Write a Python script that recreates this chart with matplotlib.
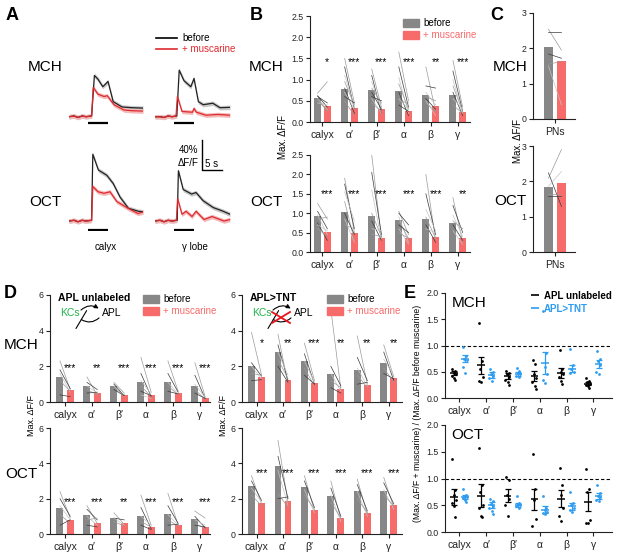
import matplotlib
matplotlib.use('Agg')
import matplotlib.pyplot as plt
from matplotlib.patches import FancyArrowPatch, Patch, ArrowStyle
from matplotlib.lines import Line2D
import numpy as np

plt.rcParams['font.family'] = ['Liberation Sans', 'DejaVu Sans']

W, H = 617, 556
GRAY = '#878787'
RED = '#f86b6b'
TRACE_RED = '#dd2a2f'
BLUE = '#2e9cf0'
GREEN = '#22b04a'
PAIR_COLORS = ['#9a9a9a', '#3a3a3a', '#c4c4c4']

regions = ['calyx', 'α′', 'β′', 'α', 'β', 'γ']

# ---------------- A: traces (time in s, dF/F in %) ----------------
mch_calyx_t_bef = [-4.75, -3.5, -2.5, -1.5, -0.5, 0.9, 1.6, 2.5, 3.7, 5.0, 6.3, 8.5, 11, 13.75]
mch_calyx_bef = [0, 1, -1, 1, 0, 1, 55, 50, 40, 47, 20, 13, 12, 11.5]
mch_calyx_t_mus = [-4.75, -3.5, -2.5, -1.5, -0.5, 0.9, 1.3, 2.5, 4.0, 4.8, 6.5, 9, 11, 13.75]
mch_calyx_mus = [0, 1, -1, 1, 0, 1, 39, 30, 27, 28, 16, 9, 8, 7.5]
mch_gamma_t_bef = [-4.75, -3.5, -2.5, -1.5, -0.5, 0.7, 1.3, 2.5, 4.2, 5.0, 6.1, 7.3, 9.7, 11.5, 14]
mch_gamma_bef = [0, 0, -1, 1, 0, 1, 62, 48, 40, 51, 20, 16, 18, 12, 12.5]
mch_gamma_t_mus = [-4.75, -3.5, -2.5, -1.5, -0.5, 0.5, 0.85, 2.0, 4.6, 5.0, 5.6, 8, 11, 14]
mch_gamma_mus = [0, 0, -1, 1, 0, 1, 27, 7, 6, 11, 6, 2, 3, 2]
oct_calyx_t_bef = [-4.75, -3.5, -2.5, -1.5, -0.5, 0.9, 1.2, 2.6, 4.7, 6.3, 8.0, 10.1, 12.6, 13.75]
oct_calyx_bef = [0, 1, -1, 1, 0, 1, 89, 68, 61, 50, 32, 17, 13, 12.4]
oct_calyx_t_mus = [-4.75, -3.5, -2.5, -1.5, -0.5, 0.9, 1.2, 2.5, 4.0, 5.5, 7.2, 10.0, 12.5, 13.75]
oct_calyx_mus = [0, 1, -1, 1, 0, 1, 46, 39, 37, 39, 26, 17, 10, 12]
oct_gamma_t_bef = [-4.75, -3.5, -2.5, -1.5, -0.5, 0.8, 1.1, 2.3, 4.4, 5.5, 7.3, 9.8, 12.3, 14]
oct_gamma_bef = [0, 1, -1, 1, 0, 1, 67, 42, 36, 38, 27, 18, 13, 9]
oct_gamma_t_mus = [-4.75, -3.5, -2.5, -1.5, -0.5, 0.6, 0.9, 2.0, 3.0, 4.5, 5.5, 7.5, 9.5, 11, 12.5, 14]
oct_gamma_mus = [0, 1, -1, 1, 0, 1, 30, 9, 13, 6, 13, 2, 6, 3, 0, 2]
trace_sem = 3.0
odor_on, odor_off = 0, 5

# ---------------- B: KC bars ----------------
b_mch_before = [0.56, 0.77, 0.76, 0.73, 0.63, 0.64]
b_mch_after = [0.38, 0.32, 0.30, 0.27, 0.37, 0.23]
b_mch_stars = ['*', '***', '***', '***', '**', '***']
b_mch_pairs = [
    [(0.68, 0.95), (0.62, 0.35), (0.55, 0.3), (0.5, 0.28), (0.6, 0.45), (0.45, 0.4), (0.55, 0.25)],
    [(1.5, 0.45), (1.3, 0.3), (1.1, 0.35), (0.95, 0.4), (0.8, 0.2), (0.7, 0.3), (0.5, 0.15), (0.6, 0.45)],
    [(1.25, 0.35), (1.1, 0.2), (0.95, 0.3), (0.8, 0.45), (0.7, 0.3), (0.55, 0.2), (0.45, 0.25), (0.6, 0.5)],
    [(1.65, 0.5), (1.3, 0.35), (1.05, 0.2), (0.9, 0.3), (0.7, 0.15), (0.55, 0.3), (0.5, 0.45), (0.4, 0.25)],
    [(1.3, 0.25), (0.85, 0.8), (0.7, 0.4), (0.6, 0.5), (0.55, 0.3), (0.5, 0.15), (0.45, 0.25)],
    [(1.45, 0.35), (1.2, 0.25), (1.0, 0.2), (0.85, 0.25), (0.7, 0.15), (0.55, 0.3), (0.4, 0.2)],
]
b_oct_before = [0.92, 1.02, 0.92, 0.82, 0.86, 0.74]
b_oct_after = [0.52, 0.50, 0.36, 0.37, 0.38, 0.36]
b_oct_stars = ['***', '***', '***', '***', '***', '**']
b_oct_pairs = [
    [(1.25, 0.85), (1.05, 0.6), (0.95, 0.45), (0.85, 0.9), (0.75, 0.3), (0.7, 0.55), (0.6, 0.4)],
    [(1.9, 0.5), (1.75, 0.6), (1.55, 0.8), (1.3, 0.3), (1.0, 0.45), (0.85, 0.25), (0.7, 0.6)],
    [(2.5, 0.35), (2.05, 0.45), (1.6, 0.3), (1.0, 0.4), (0.8, 0.3), (0.6, 0.55), (0.45, 0.4)],
    [(1.05, 0.45), (1.0, 0.7), (0.9, 0.25), (0.8, 0.35), (0.7, 0.5), (0.6, 0.2), (0.5, 0.35)],
    [(2.0, 0.3), (1.5, 0.45), (1.1, 0.55), (0.9, 0.35), (0.7, 0.25), (0.6, 0.5)],
    [(1.4, 0.25), (1.2, 0.5), (0.95, 0.4), (0.8, 0.6), (0.7, 0.3), (0.55, 0.2)],
]

# ---------------- C: PN bars ----------------
c_mch_before, c_mch_after = 2.05, 1.63
c_mch_pairs = [(2.54, 1.95), (2.45, 2.45), (1.5, 0.4), (1.55, 1.63), (1.84, 1.72)]
c_oct_before, c_oct_after = 1.83, 1.94
c_oct_pairs = [(2.09, 2.9), (2.24, 1.29), (1.86, 2.28), (1.65, 1.65), (1.58, 1.58)]

# ---------------- D: APL unlabeled vs APL>TNT ----------------
d_unl_mch_before = [1.4, 0.92, 0.92, 1.12, 1.12, 0.87]
d_unl_mch_after = [0.65, 0.5, 0.38, 0.38, 0.48, 0.22]
d_unl_mch_stars = ['***', '**', '***', '***', '***', '***']
d_unl_mch_pairs = [
    [(2.3, 0.7), (1.8, 0.75), (1.6, 0.55), (1.2, 0.6), (0.4, 0.3)],
    [(1.4, 0.4), (1.1, 0.7), (0.9, 0.5), (0.7, 0.4), (0.5, 0.55)],
    [(1.1, 0.5), (1.0, 0.35), (0.9, 0.3), (0.8, 0.4), (0.7, 0.35)],
    [(2.5, 0.55), (1.6, 0.3), (1.2, 0.45), (0.9, 0.3), (0.6, 0.35), (0.4, 0.2)],
    [(2.3, 0.6), (1.6, 0.55), (1.1, 0.45), (0.9, 0.4), (0.6, 0.45)],
    [(2.2, 0.3), (1.5, 0.2), (1.0, 0.25), (0.7, 0.15), (0.5, 0.2)],
]
d_unl_oct_before = [1.45, 1.08, 0.92, 1.0, 1.12, 0.85]
d_unl_oct_after = [0.78, 0.62, 0.6, 0.42, 0.52, 0.4]
d_unl_oct_stars = ['***', '***', '**', '***', '***', '***']
d_unl_oct_pairs = [
    [(2.4, 0.9), (2.0, 1.0), (1.6, 0.8), (1.1, 0.6), (0.5, 0.8)],
    [(1.6, 0.6), (1.4, 0.8), (1.0, 0.5), (0.8, 0.9), (0.5, 0.4)],
    [(1.2, 0.55), (0.9, 0.8), (0.9, 0.5), (0.7, 0.45)],
    [(2.2, 0.5), (1.5, 0.3), (1.0, 0.5), (0.7, 0.4), (0.5, 0.25)],
    [(2.3, 0.5), (1.6, 0.6), (1.1, 0.5), (0.8, 0.45), (0.5, 0.55)],
    [(1.3, 0.9), (1.0, 0.35), (0.8, 0.5), (0.6, 0.3), (0.5, 0.4)],
]
d_tnt_mch_before = [2.0, 2.8, 2.3, 1.55, 1.8, 2.2]
d_tnt_mch_after = [1.38, 1.25, 1.05, 0.75, 0.97, 1.32]
d_tnt_mch_stars = ['*', '**', '***', '**', '**', '**']
d_tnt_mch_pairs = [
    [(3.9, 1.5), (2.2, 1.45), (2.0, 1.3), (1.6, 1.5), (1.2, 1.25)],
    [(3.8, 1.0), (3.2, 1.2), (2.8, 1.5), (2.4, 1.3), (2.0, 1.1)],
    [(3.3, 1.2), (2.7, 1.0), (2.3, 1.1), (1.9, 0.9), (1.5, 1.0)],
    [(5.2, 0.7), (2.0, 0.9), (1.6, 0.6), (1.2, 0.8), (0.8, 0.5)],
    [(3.7, 1.0), (2.5, 1.2), (1.9, 0.9), (1.5, 0.8), (1.0, 1.1)],
    [(3.2, 1.4), (2.8, 1.2), (2.4, 1.5), (1.9, 1.1), (1.6, 1.3)],
]
d_tnt_oct_before = [2.72, 3.85, 2.68, 2.15, 2.45, 2.45]
d_tnt_oct_after = [1.78, 1.85, 1.35, 0.9, 1.2, 1.62]
d_tnt_oct_stars = ['***'] * 6
d_tnt_oct_pairs = [
    [(3.3, 1.7), (3.0, 1.9), (2.6, 1.8), (2.2, 1.6)],
    [(5.3, 1.8), (4.4, 2.0), (3.6, 1.6), (2.3, 1.5), (2.0, 2.1)],
    [(3.3, 1.3), (3.0, 1.5), (2.5, 1.2), (2.2, 1.4)],
    [(3.0, 0.8), (2.6, 1.0), (2.2, 0.7), (1.8, 0.9)],
    [(3.1, 1.1), (2.8, 1.3), (2.4, 1.0), (2.0, 1.2)],
    [(3.2, 1.5), (2.9, 1.7), (2.5, 1.4), (2.2, 1.6)],
]

# ---------------- E: ratio after/before ----------------
e_mch_unl_mean = [0.47, 0.62, 0.42, 0.42, 0.48, 0.27]
e_mch_unl_sem = [0.04, 0.17, 0.05, 0.09, 0.09, 0.03]
e_mch_tnt_mean = [0.75, 0.44, 0.46, 0.66, 0.56, 0.65]
e_mch_tnt_sem = [0.06, 0.05, 0.04, 0.21, 0.07, 0.08]
e_mch_unl_pts = [
    [0.55, 0.52, 0.48, 0.45, 0.42, 0.38, 0.35],
    [1.43, 0.7, 0.55, 0.4, 0.32, 0.3],
    [0.52, 0.48, 0.45, 0.4, 0.35, 0.3, 0.25],
    [0.73, 0.65, 0.45, 0.38, 0.3, 0.22, 0.18],
    [0.92, 0.55, 0.5, 0.45, 0.4, 0.32, 0.27],
    [0.38, 0.33, 0.3, 0.27, 0.25, 0.22, 0.2],
]
e_mch_tnt_pts = [
    [0.97, 0.8, 0.75, 0.72, 0.6, 0.47],
    [0.56, 0.5, 0.45, 0.42, 0.38, 0.33],
    [0.57, 0.52, 0.48, 0.45, 0.42, 0.4],
    [1.65, 0.85, 0.6, 0.45, 0.35, 0.28],
    [0.94, 0.62, 0.55, 0.5, 0.48],
    [0.9, 0.75, 0.7, 0.62, 0.5, 0.45],
]
e_oct_unl_mean = [0.66, 0.68, 0.68, 0.61, 0.62, 0.57]
e_oct_unl_sem = [0.15, 0.21, 0.12, 0.2, 0.16, 0.17]
e_oct_tnt_mean = [0.66, 0.50, 0.51, 0.42, 0.48, 0.67]
e_oct_tnt_sem = [0.04, 0.06, 0.04, 0.06, 0.06, 0.05]
e_oct_unl_pts = [
    [1.37, 0.78, 0.7, 0.6, 0.55, 0.48, 0.28],
    [1.57, 0.88, 0.75, 0.5, 0.45, 0.3, 0.28],
    [1.02, 0.97, 0.7, 0.62, 0.5, 0.3],
    [1.45, 0.8, 0.6, 0.25, 0.12],
    [1.2, 0.88, 0.7, 0.45, 0.3, 0.2],
    [1.18, 0.8, 0.75, 0.22, 0.17, 0.16],
]
e_oct_tnt_pts = [
    [0.8, 0.7, 0.67, 0.65, 0.63, 0.6, 0.56],
    [0.62, 0.58, 0.52, 0.48, 0.44, 0.4, 0.33],
    [0.68, 0.55, 0.52, 0.5, 0.48, 0.45],
    [0.68, 0.45, 0.42, 0.38, 0.35, 0.33],
    [0.75, 0.55, 0.5, 0.45, 0.42, 0.38],
    [0.87, 0.72, 0.68, 0.65, 0.6, 0.58],
]

fig = plt.figure(figsize=(W / 100, H / 100), dpi=100)


def px_axes(x0, y0, x1, y1):
    return fig.add_axes([x0 / W, 1 - y1 / H, (x1 - x0) / W, (y1 - y0) / H])


def ftext(x, y, s, **kw):
    fig.text(x / W, 1 - y / H, s, **kw)


def style(ax, xlabels=None):
    for side in ('top', 'right'):
        ax.spines[side].set_visible(False)
    for side in ('left', 'bottom'):
        ax.spines[side].set_linewidth(0.8)
        ax.spines[side].set_color('#222222')
    ax.tick_params(length=3, width=0.8, labelsize=6.3, pad=1.5, colors='#222222')
    if xlabels is not None:
        ax.set_xticks(np.arange(len(xlabels)))
        ax.set_xticklabels(xlabels, fontsize=7.5)
        ax.tick_params(axis='x', pad=3)


# ---- A ----
def trace_axes(rect, xlim, ylim, traces, bar_y):
    ax = px_axes(*rect)
    for t, v, c, band in traces:
        v = np.array(v, dtype=float)
        ax.fill_between(t, v - trace_sem, v + trace_sem, color=band, lw=0, zorder=1)
        ax.plot(t, v, color=c, lw=0.9, zorder=2)
    ax.plot([odor_on, odor_off], [bar_y, bar_y], color='black', lw=1.6, solid_capstyle='butt')
    ax.set_xlim(*xlim)
    ax.set_ylim(*ylim)
    ax.axis('off')
    return ax


trace_axes((69, 57, 143, 127), (-4.75, 13.75), (-13.7, 79.6),
           [(mch_calyx_t_bef, mch_calyx_bef, '#222222', '#c8c8c8'),
            (mch_calyx_t_mus, mch_calyx_mus, TRACE_RED, '#f5b8b8')], -8)
trace_axes((155, 57, 230, 127), (-4.75, 14), (-13.7, 79.6),
           [(mch_gamma_t_bef, mch_gamma_bef, '#222222', '#c8c8c8'),
            (mch_gamma_t_mus, mch_gamma_mus, TRACE_RED, '#f5b8b8')], -8)
trace_axes((69, 141, 143, 231), (-4.75, 13.75), (-13.3, 106.7),
           [(oct_calyx_t_bef, oct_calyx_bef, '#222222', '#c8c8c8'),
            (oct_calyx_t_mus, oct_calyx_mus, TRACE_RED, '#f5b8b8')], -12)
axg = trace_axes((155, 141, 230, 231), (-4.75, 14), (-13.3, 106.7),
                 [(oct_gamma_t_bef, oct_gamma_bef, '#222222', '#c8c8c8'),
                  (oct_gamma_t_mus, oct_gamma_mus, TRACE_RED, '#f5b8b8')], -12)
# scale bar: 40 % dF/F, 5 s
axg.plot([7.0, 7.0, 12.0], [108, 68, 68], color='black', lw=1.0, clip_on=False)
axg.text(6.2, 86, '40%\nΔF/F', ha='right', va='center', fontsize=7, linespacing=1.3)
axg.text(9.5, 76, '5 s', ha='center', va='center', fontsize=7)

ftext(12, 16, 'A', fontsize=13, fontweight='bold', va='center', ha='center')
ftext(45, 67, 'MCH', fontsize=11, va='center', ha='center')
ftext(45, 202, 'OCT', fontsize=11, va='center', ha='center')
ftext(106, 247, 'calyx', fontsize=7, va='center', ha='center')
ftext(195, 247, 'γ lobe', fontsize=7, va='center', ha='center')
fig.lines.append(Line2D([156 / W, 177 / W], [1 - 38 / H] * 2, color='black', lw=1.2, transform=fig.transFigure))
fig.lines.append(Line2D([156 / W, 177 / W], [1 - 49 / H] * 2, color=TRACE_RED, lw=1.2, transform=fig.transFigure))
ftext(182, 38, 'before', fontsize=7, va='center')
ftext(182, 49, '+ muscarine', fontsize=7, va='center', color=TRACE_RED)


# ---- bar panels ----
def bar_panel(ax, before, after, pairs, stars, star_y, width, off):
    x = np.arange(len(before))
    ax.bar(x - off, before, width, color=GRAY, zorder=1)
    ax.bar(x + off, after, width, color=RED, zorder=1)
    for i, grp in enumerate(pairs):
        for k, (b, a) in enumerate(grp):
            ax.plot([x[i] - off, x[i] + off], [b, a], color=PAIR_COLORS[k % 3], lw=0.5, zorder=2)
    if stars:
        for i, s in enumerate(stars):
            ax.text(x[i] + off, star_y, s, ha='center', va='center', fontsize=7.5)


def bar_legend(x, y):
    h = [Patch(color=GRAY), Patch(color=RED)]
    leg = fig.legend(h, ['before', '+ muscarine'], loc='upper left',
                     bbox_to_anchor=(x / W, 1 - y / H), frameon=False, fontsize=7,
                     handlelength=1.6, handleheight=0.9, handletextpad=0.5,
                     borderpad=0, borderaxespad=0, labelspacing=0.25)
    leg.get_texts()[1].set_color(RED)


# B
axb1 = px_axes(310, 16, 470, 122)
bar_panel(axb1, b_mch_before, b_mch_after, b_mch_pairs, b_mch_stars, 1.42, 0.26, 0.18)
axb1.set_xlim(-0.46, 5.45)
axb1.set_ylim(0, 2.5)
axb1.set_yticks(np.arange(0, 2.51, 0.5))
axb1.set_yticklabels(['%.1f' % v for v in np.arange(0, 2.51, 0.5)])
style(axb1, regions)
axb2 = px_axes(310, 155, 470, 252)
bar_panel(axb2, b_oct_before, b_oct_after, b_oct_pairs, b_oct_stars, 1.5, 0.26, 0.18)
axb2.set_xlim(-0.46, 5.45)
axb2.set_ylim(0, 2.5)
axb2.set_yticks(np.arange(0, 2.51, 0.5))
axb2.set_yticklabels(['%.1f' % v for v in np.arange(0, 2.51, 0.5)])
style(axb2, regions)
bar_legend(403, 18)
ftext(256, 16, 'B', fontsize=13, fontweight='bold', va='center', ha='center')
ftext(266, 67, 'MCH', fontsize=11, va='center', ha='center')
ftext(266, 202, 'OCT', fontsize=11, va='center', ha='center')
ftext(283, 137, 'Max. ΔF/F', fontsize=7, va='center', ha='center', rotation=90)

# C
for (y0, y1, bef, aft, pairs) in [(13, 119, c_mch_before, c_mch_after, c_mch_pairs),
                                  (146, 252, c_oct_before, c_oct_after, c_oct_pairs)]:
    axc = px_axes(533, y0, 575, y1)
    bar_panel(axc, [bef], [aft], [pairs], None, 0, 0.34, 0.24)
    axc.set_xlim(-0.81, 0.74)
    axc.set_ylim(0, 3)
    axc.set_yticks([0, 1, 2, 3])
    style(axc, ['PNs'])
ftext(497, 16, 'C', fontsize=13, fontweight='bold', va='center', ha='center')
ftext(510, 67, 'MCH', fontsize=11, va='center', ha='center')
ftext(510, 201, 'OCT', fontsize=11, va='center', ha='center')
ftext(518, 141, 'Max. ΔF/F', fontsize=7, va='center', ha='center', rotation=90)

# D
d_sets = [
    ((50, 295, 210, 402), d_unl_mch_before, d_unl_mch_after, d_unl_mch_pairs, d_unl_mch_stars, 1.9, (-0.56, 5.37)),
    ((50, 428, 210, 534), d_unl_oct_before, d_unl_oct_after, d_unl_oct_pairs, d_unl_oct_stars, 1.8, (-0.56, 5.37)),
    ((242, 295, 402, 402), d_tnt_mch_before, d_tnt_mch_after, d_tnt_mch_pairs, d_tnt_mch_stars, 3.3, (-0.55, 5.5)),
    ((242, 428, 402, 534), d_tnt_oct_before, d_tnt_oct_after, d_tnt_oct_pairs, d_tnt_oct_stars, 3.45, (-0.55, 5.5)),
]
for rect, bef, aft, pairs, stars, sy, xl in d_sets:
    axd = px_axes(*rect)
    bar_panel(axd, bef, aft, pairs, stars, sy, 0.26, 0.19)
    axd.set_xlim(*xl)
    axd.set_ylim(0, 6)
    axd.set_yticks([0, 2, 4, 6])
    style(axd, regions)
bar_legend(143, 294)
bar_legend(327, 294)
ftext(10, 294, 'D', fontsize=13, fontweight='bold', va='center', ha='center')
ftext(21, 345, 'MCH', fontsize=11, va='center', ha='center')
ftext(21, 474, 'OCT', fontsize=11, va='center', ha='center')
ftext(31, 415, 'Max. ΔF/F', fontsize=6.5, va='center', ha='center', rotation=90)
ftext(224, 415, 'Max. ΔF/F', fontsize=6.5, va='center', ha='center', rotation=90)

# D circuit insets
ftext(58, 298, 'APL unlabeled', fontsize=7.5, fontweight='bold', va='center')
ftext(250, 298, 'APL>TNT', fontsize=7.5, fontweight='bold', va='center')
for x0 in (60, 252):
    ftext(x0, 313, 'KCs', fontsize=7.5, color=GREEN, va='center')
    ftext(x0 + 42, 313, 'APL', fontsize=7.5, va='center')
    a1 = FancyArrowPatch(((x0 + 19) / W, 1 - 312 / H), ((x0 + 41) / W, 1 - 310 / H),
                         transform=fig.transFigure, connectionstyle='arc3,rad=-0.45',
                         arrowstyle='-|>', mutation_scale=6, lw=0.8, color='black')
    a2 = FancyArrowPatch(((x0 + 41) / W, 1 - 316 / H), ((x0 + 19) / W, 1 - 318 / H),
                         transform=fig.transFigure, connectionstyle='arc3,rad=-0.45',
                         arrowstyle=ArrowStyle('-[', widthB=2.5, lengthB=0), mutation_scale=3,
                         lw=0.8, color='black')
    fig.patches.extend([a1, a2])
fig.lines.append(Line2D([272 / W, 290 / W], [1 - 312 / H, 1 - 323 / H], color='#e8141c', lw=1.3,
                        transform=fig.transFigure))
fig.lines.append(Line2D([272 / W, 290 / W], [1 - 323 / H, 1 - 312 / H], color='#e8141c', lw=1.3,
                        transform=fig.transFigure))

# E
jitter = [-0.06, 0.04, -0.02, 0.07, -0.08, 0.01, 0.05]
e_sets = [
    ((445, 293, 612, 398), 'MCH', e_mch_unl_mean, e_mch_unl_sem, e_mch_unl_pts,
     e_mch_tnt_mean, e_mch_tnt_sem, e_mch_tnt_pts),
    ((445, 425, 612, 532), 'OCT', e_oct_unl_mean, e_oct_unl_sem, e_oct_unl_pts,
     e_oct_tnt_mean, e_oct_tnt_sem, e_oct_tnt_pts),
]
for rect, odor, um, us, up, tm, ts, tp in e_sets:
    axe = px_axes(*rect)
    x = np.arange(len(regions))
    axe.axhline(1.0, color='black', lw=0.8, ls=(0, (3, 2)), zorder=0)
    for off, m, s, pts, c in [(-0.2, um, us, up, 'black'), (0.2, tm, ts, tp, BLUE)]:
        for i, grp in enumerate(pts):
            axe.scatter([x[i] + off + jitter[k % 7] for k in range(len(grp))], grp,
                        s=4, color=c, lw=0, zorder=2)
        axe.errorbar(x + off, m, yerr=s, fmt='none', ecolor=c, elinewidth=0.9,
                     capsize=2.2, capthick=0.9, zorder=3)
        axe.hlines(m, x + off - 0.14, x + off + 0.14, color=c, lw=1.1, zorder=3)
    axe.set_xlim(-0.54, 5.7)
    axe.set_ylim(0, 2.0)
    axe.set_yticks(np.arange(0, 2.01, 0.5))
    axe.set_yticklabels(['%.1f' % v for v in np.arange(0, 2.01, 0.5)])
    style(axe, regions)
    axe.text(0.04, 0.97, odor, transform=axe.transAxes, fontsize=11, va='top', ha='left')
    if odor == 'MCH':
        h = [Line2D([], [], color='black', marker='_', ms=6, mew=1.2, ls='none'),
             Line2D([], [], color=BLUE, marker='_', ms=6, mew=1.2, ls='none')]
        leg = axe.legend(h, ['APL unlabeled', 'APL>TNT'], loc='upper left',
                         bbox_to_anchor=((531 - 445) / 167, 1.02), frameon=False,
                         prop={'size': 7, 'weight': 'bold'}, handlelength=0.8,
                         handletextpad=0.5, borderpad=0, borderaxespad=0, labelspacing=0.3)
        leg.get_texts()[1].set_color(BLUE)
ftext(410, 293, 'E', fontsize=13, fontweight='bold', va='center', ha='center')
ftext(418, 413, '(Max. ΔF/F + muscarine) / (Max. ΔF/F before muscarine)', fontsize=6.2,
      va='center', ha='center', rotation=90)

fig.savefig('out.png', dpi=100)
